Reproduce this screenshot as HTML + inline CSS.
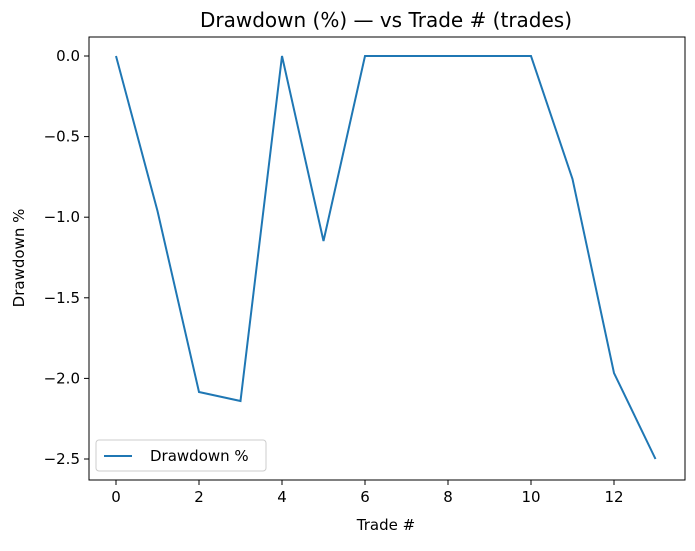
<!DOCTYPE html>
<html><head><meta charset="utf-8"><style>body{margin:0;background:#fff}</style></head><body>
<svg width="695" height="546" xmlns="http://www.w3.org/2000/svg" font-family="DejaVu Sans, Liberation Sans, sans-serif" font-size="15">
<rect width="695" height="546" fill="#fff"/>
<text x="386" y="27" text-anchor="middle" font-size="20">Drawdown (%) — vs Trade # (trades)</text>
<polyline fill="none" stroke="#1f77b4" stroke-width="2" points="116,56 157.5,211 199,392 240.5,401 282,56 323.5,241 365,56 406.5,56 448,56 489.5,56 531,56 572.5,179 614,373 655.5,459"/>
<rect x="89" y="37" width="596" height="443" fill="none" stroke="#000" stroke-width="1"/>
<g stroke="#000">
<line x1="116" y1="480" x2="116" y2="485"/><line x1="199" y1="480" x2="199" y2="485"/><line x1="282" y1="480" x2="282" y2="485"/><line x1="365" y1="480" x2="365" y2="485"/><line x1="448" y1="480" x2="448" y2="485"/><line x1="531" y1="480" x2="531" y2="485"/><line x1="614" y1="480" x2="614" y2="485"/>
<line x1="84" y1="56" x2="89" y2="56"/><line x1="84" y1="136.6" x2="89" y2="136.6"/><line x1="84" y1="217.2" x2="89" y2="217.2"/><line x1="84" y1="297.8" x2="89" y2="297.8"/><line x1="84" y1="378.4" x2="89" y2="378.4"/><line x1="84" y1="459" x2="89" y2="459"/>
</g>
<g text-anchor="middle">
<text x="116" y="502">0</text><text x="199" y="502">2</text><text x="282" y="502">4</text><text x="365" y="502">6</text><text x="448" y="502">8</text><text x="531" y="502">10</text><text x="614" y="502">12</text>
<text x="386" y="530">Trade #</text>
</g>
<g text-anchor="end">
<text x="80" y="61">0.0</text><text x="80" y="141.6">−0.5</text><text x="80" y="222.2">−1.0</text><text x="80" y="302.8">−1.5</text><text x="80" y="383.4">−2.0</text><text x="80" y="464">−2.5</text>
</g>
<text transform="translate(24,258) rotate(-90)" text-anchor="middle">Drawdown %</text>
<rect x="96" y="440" width="170" height="31" rx="3" fill="#fff" stroke="#ccc"/>
<line x1="104" y1="456" x2="132" y2="456" stroke="#1f77b4" stroke-width="2"/>
<text x="150" y="461">Drawdown %</text>
</svg>
</body></html>
